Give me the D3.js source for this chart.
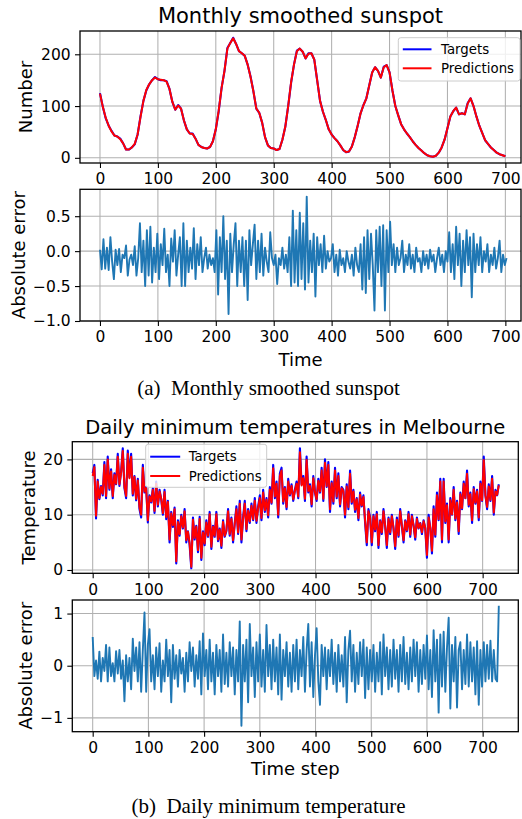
<!DOCTYPE html>
<html><head><meta charset="utf-8">
<script src="https://cdn.jsdelivr.net/npm/d3@7"></script>
<style>body{margin:0;background:#fff}svg{display:block}</style>
</head><body>
<svg id="c" width="522" height="819"></svg>
<script>
// ---------------- DATA ----------------
const xTickValues = [0, 100, 200, 300, 400, 500, 600, 700];
const sunStep = 5;
const sunTargets = [125,98,76,62,52,43,41,37,28,16,16,20,26,45,80,110,130,142,150,156,152,150,150,148,133,108,93,102,95,72,55,47,47,37,25,21,19,18,21,32,55,90,135,168,212,222,232,220,206,202,197,180,157,128,95,87,68,40,24,19,18,15,17,35,60,100,145,180,207,211,205,192,202,202,190,150,110,89,73,55,45,38,32,24,15,11,12,22,40,62,86,102,115,140,165,175,168,155,176,179,165,130,100,82,65,55,47,40,32,25,19,14,9,5,3,2,4,10,20,35,57,80,90,97,84,86,84,106,115,100,80,62,48,34,27,20,15,10,7,5,3];
const sunPredictions = [124,98,77,62,51,43,41,36,28,16,16,20,27,45,79,110,131,142,150,155,152,151,150,147,133,108,93,101,95,72,55,47,46,37,25,21,19,18,21,32,55,91,135,168,211,222,231,220,206,202,197,180,156,128,95,87,68,40,24,19,18,15,17,35,60,100,146,180,206,211,205,192,201,202,190,150,110,89,73,55,45,38,32,24,15,11,12,22,40,62,86,102,115,140,165,175,168,155,175,179,165,130,100,82,65,55,47,40,32,25,19,14,9,5,3,2,4,10,20,35,57,80,90,97,84,86,84,105,115,100,80,62,48,34,27,20,15,10,7,5,3];
const sunErrStep = 3;
const sunErrors = [
 0.02,-0.26,0.17,-0.25,0.05,-0.27,0.2,-0.15,-0.4,0.02,
 -0.2,0.03,-0.3,-0.05,-0.1,0.08,-0.35,-0.12,-0.05,-0.2,
 0.07,-0.35,-0.1,0.4,-0.3,0.15,-0.5,0.3,-0.35,0.35,
 -0.45,0.05,-0.3,0.25,-0.4,0.1,-0.2,0.32,-0.3,-0.05,
 -0.5,0.18,-0.15,0.3,-0.35,-0.05,0.2,-0.5,0.4,-0.5,
 0.15,-0.3,0.05,-0.25,0.33,-0.4,0.1,-0.2,0.2,-0.3,
 -0.1,0.05,-0.25,-0.05,-0.2,-0.1,-0.3,0.3,-0.62,0.2,
 -0.3,0.5,-0.4,0.15,-0.9,0.25,-0.3,0.1,0.4,-0.5,
 0.15,-0.3,0.2,-0.5,0.15,-0.7,0.3,-0.2,0.1,0.38,
 -0.4,0.15,-0.3,0.25,-0.35,0.05,-0.15,-0.3,0.27,-0.1,
 -0.2,-0.05,-0.47,-0.1,-0.2,0.05,-0.25,-0.05,-0.3,0.2,
 -0.5,0.58,-0.45,0.3,-0.5,0.55,-0.4,0.4,-0.55,0.78,
 -0.45,0.15,-0.3,0.25,-0.65,0.2,-0.2,0.1,-0.3,0.22,
 -0.25,0.0,-0.15,-0.1,0.1,-0.3,-0.05,-0.35,0.02,-0.2,
 -0.1,-0.3,0.0,-0.15,-0.25,-0.05,-0.35,0.05,-0.2,-0.3,
 0.1,-0.55,0.2,-0.6,0.3,-0.4,0.25,-0.2,-0.85,0.3,
 -0.3,0.35,-0.5,0.37,-0.85,0.3,-0.3,0.42,-0.2,0.1,
 -0.3,0.05,-0.2,-0.1,0.15,-0.3,-0.05,-0.2,0.1,-0.25,
 -0.05,-0.3,0.05,-0.15,-0.1,-0.3,0.0,-0.2,-0.05,-0.25,
 0.02,-0.15,-0.05,-0.3,-0.1,0.05,-0.2,-0.05,-0.3,0.0,
 -0.15,0.27,-0.3,0.1,-0.4,0.35,-0.2,0.25,-0.5,0.15,
 -0.3,0.3,-0.2,0.2,-0.66,0.25,-0.3,0.1,-0.2,0.2,
 -0.3,0.0,-0.15,0.1,-0.3,-0.05,-0.2,0.05,-0.25,-0.1,
 0.15,-0.3,-0.05,-0.2,-0.1];
const tempStep = 3;
const tempTargets = [
 17.5,19.0,9.3,16.3,12.8,15.2,13.5,19.5,13.0,20.5,
 14.5,18.2,13.0,17.5,15.5,21.0,15.2,17.8,22.0,14.8,
 13.0,21.6,16.8,21.0,13.5,17.0,12.6,16.5,11.0,9.5,
 19.0,14.0,15.0,8.6,13.5,12.2,14.8,10.3,16.0,11.5,
 14.5,12.8,10.0,14.5,9.2,12.5,5.0,10.5,7.8,11.3,
 1.2,9.0,6.2,10.0,7.5,11.0,5.0,7.0,4.5,0.3,
 9.5,5.5,8.0,3.2,9.6,1.8,7.0,4.5,9.0,6.0,
 10.5,3.8,8.0,6.0,10.5,5.2,7.5,4.0,9.0,6.0,
 7.0,11.0,6.2,9.5,5.0,8.5,11.5,6.5,12.5,5.0,
 9.5,12.5,7.0,11.0,8.5,12.0,9.0,13.0,8.5,11.5,
 13.5,9.0,14.5,10.5,13.0,9.5,15.0,12.0,19.0,13.0,
 16.0,9.5,17.5,18.5,12.0,15.0,11.0,16.5,13.5,15.5,
 12.5,14.5,16.0,13.0,22.0,15.5,17.0,12.5,20.5,14.0,
 15.5,11.5,17.0,14.0,12.5,16.5,14.0,18.5,12.5,20.0,
 15.0,19.5,10.5,16.0,12.0,18.5,13.0,17.5,11.5,15.0,
 14.5,9.5,15.5,11.0,18.0,12.0,14.5,10.5,13.0,9.0,
 14.0,11.5,13.5,8.5,4.5,11.0,9.5,4.5,10.0,7.0,
 10.5,4.0,9.0,6.5,11.0,8.0,4.0,9.5,6.5,10.0,
 7.5,3.8,9.5,6.0,11.0,8.0,5.0,9.0,7.0,10.5,
 6.0,10.0,8.0,5.5,9.5,7.5,8.5,6.5,9.0,7.5,
 2.2,10.0,7.5,3.0,11.5,6.0,14.0,9.0,16.5,5.0,
 16.5,8.5,12.0,5.0,13.0,10.0,15.0,9.0,12.5,6.5,
 14.0,11.0,16.0,13.0,18.0,11.5,14.0,8.5,15.0,12.0,
 14.5,9.0,16.0,12.5,20.5,13.5,11.0,15.5,12.5,17.0,
 10.0,14.5,13.5,15.5];
const tempPredictions = [
 17.0,18.6,9.8,16.0,13.0,15.0,13.8,19.0,13.4,20.0,
 14.8,17.8,13.4,17.2,15.6,20.5,15.5,17.6,21.5,15.1,
 13.4,21.0,16.6,20.5,13.8,16.8,12.9,16.2,11.4,10.0,
 18.5,14.2,14.8,9.0,13.3,12.4,14.5,10.7,15.6,11.8,
 14.2,12.9,10.3,14.1,9.6,12.3,5.5,10.2,8.1,11.0,
 1.6,8.7,6.5,9.7,7.7,10.6,5.4,6.9,4.9,0.6,
 9.1,5.8,7.8,3.6,9.2,2.2,6.8,4.8,8.6,6.2,
 10.1,4.2,7.8,6.2,10.1,5.5,7.3,4.4,8.7,6.2,
 7.2,10.6,6.5,9.2,5.4,8.4,11.0,6.8,12.0,5.5,
 9.3,12.0,7.4,10.7,8.8,11.6,9.2,12.5,8.9,11.2,
 13.0,9.4,14.0,10.8,12.7,9.9,14.5,12.2,18.4,13.3,
 15.6,10.0,17.0,18.0,12.4,14.8,11.4,16.0,13.7,15.2,
 12.8,14.3,15.6,13.3,21.3,15.3,16.6,12.9,19.9,14.3,
 15.2,11.9,16.6,14.1,12.8,16.1,14.2,18.0,12.9,19.4,
 15.2,19.0,11.0,15.7,12.4,18.0,13.3,17.0,11.9,14.8,
 14.3,10.0,15.1,11.4,17.4,12.3,14.2,10.9,12.8,9.4,
 13.6,11.7,13.2,8.9,5.0,10.6,9.4,5.0,9.7,7.3,
 10.1,4.5,8.8,6.8,10.6,8.0,4.5,9.2,6.8,9.7,
 7.6,4.3,9.1,6.3,10.6,8.0,5.4,8.8,7.2,10.1,
 6.4,9.7,8.0,5.9,9.2,7.6,8.4,6.8,8.8,7.6,
 2.7,9.5,7.6,3.5,11.0,6.4,13.5,9.2,16.0,5.5,
 16.0,8.8,11.7,5.5,12.6,10.1,14.5,9.3,12.2,7.0,
 13.7,11.2,15.6,13.0,17.4,11.8,13.7,9.0,14.6,12.2,
 14.2,9.5,15.6,12.6,19.9,13.5,11.4,15.1,12.7,16.5,
 10.4,14.2,13.6,15.3];
const tempErrStep = 3;
const tempErrors = [
 0.55,-0.2,0.1,-0.25,0.27,-0.3,0.15,-0.1,0.4,-0.3,
 0.35,-0.2,0.05,-0.3,0.28,-0.15,0.3,-0.25,0.1,-0.68,
 0.2,-0.3,0.15,-0.45,0.52,-0.1,0.35,-0.3,0.45,-0.5,
 0.3,1.02,-0.5,0.4,0.7,-0.3,0.2,-0.45,0.35,-0.2,
 0.43,-0.5,0.1,-0.3,0.5,-0.2,0.3,-0.7,0.4,-0.25,
 0.2,-0.4,0.3,-0.15,0.15,-0.5,0.25,-0.3,0.45,-0.1,
 0.35,-0.4,0.2,-0.25,0.47,-0.55,0.62,-0.2,0.3,-0.45,
 0.5,-0.3,0.25,-0.55,0.4,-0.2,0.3,-0.5,0.6,-0.35,
 0.25,-0.4,0.45,-0.2,0.35,-0.55,0.3,-0.3,0.85,-1.15,
 0.4,-0.3,0.5,-0.7,0.8,-0.2,0.35,-0.6,0.45,-0.3,
 0.6,-0.4,0.3,-0.5,0.78,-0.2,0.4,-0.45,0.5,-0.3,
 0.35,-0.55,0.6,-0.65,0.3,-0.2,0.45,-0.4,0.25,-0.5,
 0.4,-0.3,0.5,-0.45,0.3,-0.2,0.55,-0.5,0.3,0.8,
 -0.4,0.45,-0.6,0.2,0.72,-0.3,-0.75,0.4,-0.2,0.35,
 -0.45,0.3,-0.2,0.5,-0.35,0.25,-0.5,0.4,-0.3,0.2,
 -0.4,0.55,-0.7,0.3,0.67,-0.3,0.4,-0.5,0.25,-0.35,
 0.45,-0.2,0.5,-0.62,0.35,-0.45,0.3,-0.3,0.4,-0.5,
 0.25,-0.3,0.45,-0.55,0.6,-0.2,0.35,-0.45,0.3,-0.4,
 0.5,-0.25,0.3,-0.5,0.4,-0.3,0.55,-0.35,0.25,-0.45,
 0.35,-0.3,0.5,-0.2,0.45,-0.5,0.3,-0.35,0.4,-0.25,
 0.58,-0.45,0.3,-0.6,0.68,-0.3,0.5,-0.9,0.6,-0.4,
 0.65,-0.5,0.35,0.92,-0.82,0.4,-0.3,0.55,-0.8,0.3,
 0.45,-0.45,0.3,-0.35,0.6,-0.4,0.45,-0.3,0.35,-0.55,
 0.47,-0.75,0.3,-0.4,0.45,-0.3,0.4,-0.25,0.48,-0.3,
 0.3,-0.25,-0.3,1.15];

// ---------------- DRAWING ----------------
const svg = d3.select("#c");
const SANS = "DejaVu Sans";
const TICK_FS = 15.5, LABEL_FS = 18, LEGEND_FS = 13.3;
const minus = s => String(s).replace(/-/g, "\u2212");

function panel(o) {
  const x = d3.scaleLinear().domain(o.xDomain).range([o.l, o.r]);
  const y = d3.scaleLinear().domain(o.yDomain).range([o.b, o.t]);
  const g = svg.append("g");
  // grid
  g.append("g").selectAll("line").data(xTickValues).join("line")
    .attr("x1", d => x(d)).attr("x2", d => x(d)).attr("y1", o.t).attr("y2", o.b)
    .attr("stroke", "#b0b0b0").attr("stroke-width", 1.05);
  g.append("g").selectAll("line").data(o.yTicks).join("line")
    .attr("x1", o.l).attr("x2", o.r).attr("y1", d => y(d)).attr("y2", d => y(d))
    .attr("stroke", "#b0b0b0").attr("stroke-width", 1.05);
  // series
  o.series.forEach(s => {
    const line = d3.line().x((d, i) => x(i * s.step)).y(d => y(d));
    g.append("path").datum(s.values).attr("d", line)
      .attr("fill", "none").attr("stroke", s.color).attr("stroke-width", s.width)
      .attr("stroke-linejoin", "round").attr("stroke-linecap", "butt");
  });
  // spines
  g.append("rect").attr("x", o.l).attr("y", o.t).attr("width", o.r - o.l).attr("height", o.b - o.t)
    .attr("fill", "none").attr("stroke", "#000").attr("stroke-width", 1.3);
  // x axis
  const xa = g.append("g").attr("transform", `translate(0,${o.b})`)
    .call(d3.axisBottom(x).tickValues(xTickValues).tickSize(5).tickPadding(5.3).tickFormat(d3.format("d")));
  xa.select(".domain").remove();
  xa.selectAll(".tick line").attr("stroke", "#000").attr("stroke-width", 1.1);
  xa.attr("font-family", SANS).attr("font-size", TICK_FS);
  xa.selectAll("text").attr("fill", "#000");
  // y axis
  const ya = g.append("g").attr("transform", `translate(${o.l},0)`)
    .call(d3.axisLeft(y).tickValues(o.yTicks).tickSize(5).tickPadding(4.3).tickFormat(d => minus(o.yFormat(d))));
  ya.select(".domain").remove();
  ya.selectAll(".tick line").attr("stroke", "#000").attr("stroke-width", 1.1);
  ya.attr("font-family", SANS).attr("font-size", TICK_FS);
  ya.selectAll("text").attr("fill", "#000");
  // y label
  g.append("text").attr("transform", `translate(${o.ylabelX},${(o.t + o.b) / 2}) rotate(-90)`)
    .attr("text-anchor", "middle").attr("font-family", SANS).attr("font-size", LABEL_FS)
    .attr("fill", "#000").text(o.ylabel);
  if (o.xlabel) {
    g.append("text").attr("x", (o.l + o.r) / 2).attr("y", o.xlabelY)
      .attr("text-anchor", "middle").attr("font-family", SANS).attr("font-size", LABEL_FS)
      .attr("fill", "#000").text(o.xlabel);
  }
  if (o.title) {
    g.append("text").attr("x", (o.l + o.r) / 2).attr("y", o.titleY)
      .attr("text-anchor", "middle").attr("font-family", SANS).attr("font-size", o.titleFS)
      .attr("fill", "#000").text(o.title);
  }
  if (o.legend) {
    const L = o.legend;
    const lg = g.append("g");
    lg.append("rect").attr("x", L.x).attr("y", L.y).attr("width", L.w).attr("height", L.h)
      .attr("rx", 2.5).attr("fill", "#fff").attr("fill-opacity", 0.8)
      .attr("stroke", "#cccccc").attr("stroke-width", 1);
    L.items.forEach((it, i) => {
      const yy = L.y + L.first + i * L.gap;
      lg.append("line").attr("x1", L.x + 4.5).attr("x2", L.x + 4.5 + L.len).attr("y1", yy).attr("y2", yy)
        .attr("stroke", it.color).attr("stroke-width", 2);
      lg.append("text").attr("x", L.x + L.textDx).attr("y", yy + 4.7)
        .attr("font-family", SANS).attr("font-size", LEGEND_FS).attr("fill", "#000").text(it.label);
    });
  }
}

const legendItems = [{label: "Targets", color: "#0000ff"}, {label: "Predictions", color: "#ff0000"}];

panel({
  l: 80, r: 521, t: 31, b: 163, xDomain: [-34.5, 727], yDomain: [-10, 245],
  yTicks: [0, 100, 200], yFormat: d3.format("d"), ylabel: "Number", ylabelX: 32,
  title: "Monthly smoothed sunspot", titleY: 23.3, titleFS: 21,
  series: [
    {values: sunTargets, step: sunStep, color: "#0000ff", width: 2.1},
    {values: sunPredictions, step: sunStep, color: "#ff0000", width: 2}
  ],
  legend: {x: 398.3, y: 37.7, w: 121.7, h: 43.3, first: 11.6, gap: 19, len: 28.7, textDx: 42.7, items: legendItems}
});
panel({
  l: 80, r: 521, t: 189.3, b: 321, xDomain: [-34.5, 727], yDomain: [-1.0, 0.885],
  yTicks: [-1, -0.5, 0, 0.5], yFormat: d3.format(".1f"), ylabel: "Absolute error", ylabelX: 25,
  xlabel: "Time", xlabelY: 366,
  series: [{values: sunErrors, step: sunErrStep, color: "#1f77b4", width: 1.9}]
});
panel({
  l: 72.3, r: 518.3, t: 441.7, b: 573.3, xDomain: [-36.6, 764], yDomain: [-0.6, 23.2],
  yTicks: [0, 10, 20], yFormat: d3.format("d"), ylabel: "Temperature", ylabelX: 35,
  title: "Daily minimum temperatures in Melbourne", titleY: 434, titleFS: 19.5,
  series: [
    {values: tempTargets, step: tempStep, color: "#0000ff", width: 2.1},
    {values: tempPredictions, step: tempStep, color: "#ff0000", width: 2}
  ],
  legend: {x: 145.7, y: 444.3, w: 121, h: 43, first: 12.4, gap: 19.3, len: 30, textDx: 43, items: legendItems}
});
panel({
  l: 72.3, r: 518.3, t: 600, b: 731.7, xDomain: [-36.6, 764], yDomain: [-1.265, 1.26],
  yTicks: [-1, 0, 1], yFormat: d3.format("d"), ylabel: "Absolute error", ylabelX: 31.7,
  xlabel: "Time step", xlabelY: 775,
  series: [{values: tempErrors, step: tempErrStep, color: "#1f77b4", width: 1.9}]
});

// captions
svg.append("text").attr("x", 268.5).attr("y", 395).attr("text-anchor", "middle")
  .attr("font-family", "Liberation Serif").attr("font-size", 21).attr("fill", "#000")
  .attr("xml:space", "preserve").text("(a)  Monthly smoothed sunspot");
svg.append("text").attr("x", 268.5).attr("y", 813).attr("text-anchor", "middle")
  .attr("font-family", "Liberation Serif").attr("font-size", 21).attr("fill", "#000")
  .attr("xml:space", "preserve").text("(b)  Daily minimum temperature");
</script>
</body></html>
